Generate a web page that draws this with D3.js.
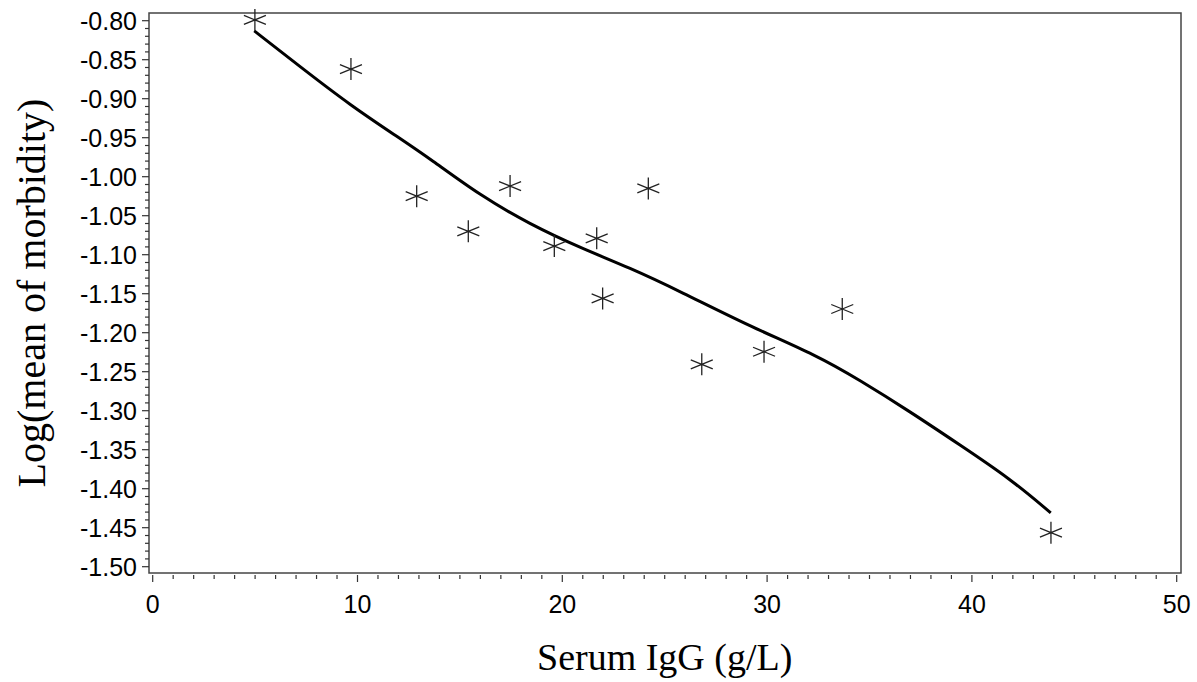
<!DOCTYPE html>
<html>
<head>
<meta charset="utf-8">
<script src="https://cdn.jsdelivr.net/npm/d3@7"></script>
<style>
  body { margin: 0; background: #fff; }
  svg { display: block; }
</style>
</head>
<body>
<div id="chart"></div>
<script>
// observed points: serum IgG (g/L) vs log(mean of morbidity)
const igg = [4.99, 9.68, 12.89, 15.41, 17.45, 19.61, 21.68, 21.97, 24.2, 26.81, 29.85, 33.67, 43.86];
const logMorb = [-0.799, -0.862, -1.025, -1.07, -1.012, -1.089, -1.079, -1.156, -1.015, -1.2405, -1.2244, -1.1696, -1.4564];

// fitted curve
const fitX = [4.96, 7.2, 9.63, 12.08, 13.54, 15.98, 18.42, 20.86, 23.31, 25.75, 29.16, 32.42, 34.53, 36.97, 39.42, 41.86, 43.85];
const fitY = [-0.813, -0.859, -0.908, -0.951, -0.977, -1.024, -1.061, -1.091, -1.117, -1.147, -1.192, -1.229, -1.261, -1.301, -1.344, -1.387, -1.431];

const xTicks = [0, 10, 20, 30, 40, 50];
const yTicks = [-0.80, -0.85, -0.90, -0.95, -1.00, -1.05, -1.10, -1.15, -1.20, -1.25, -1.30, -1.35, -1.40, -1.45, -1.50];

const width = 1197, height = 682;

const svg = d3.select("#chart").append("svg")
    .attr("width", width)
    .attr("height", height);

const x = d3.scaleLinear().domain([0, 50]).range([152.7, 1176.7]);
const y = d3.scaleLinear().domain([-1.50, -0.80]).range([566.7, 20.7]);

// plot frame
const fx0 = 149, fx1 = 1181, fy0 = 13, fy1 = 573;
svg.append("rect")
    .attr("x", fx0).attr("y", fy0)
    .attr("width", fx1 - fx0).attr("height", fy1 - fy0)
    .attr("fill", "none")
    .attr("stroke", "#444")
    .attr("stroke-width", 1.5);

const tickColor = "#333";

// y ticks (major + minor every 0.01)
const yMinor = d3.range(-150, -79).map(d => d / 100);
svg.append("g").selectAll("line")
    .data(yMinor)
    .enter().append("line")
    .attr("x1", d => (Math.round(d * 100) % 5 === 0) ? fx0 - 7 : fx0 - 4)
    .attr("x2", fx0)
    .attr("y1", d => y(d)).attr("y2", d => y(d))
    .attr("stroke", tickColor)
    .attr("stroke-width", 1.2);

svg.append("g").selectAll("text")
    .data(yTicks)
    .enter().append("text")
    .attr("x", 137)
    .attr("y", d => y(d))
    .attr("dy", "0.36em")
    .attr("text-anchor", "end")
    .attr("font-family", "Arial, 'Liberation Sans', sans-serif")
    .attr("font-size", 25)
    .attr("fill", "#000")
    .text(d => d.toFixed(2));

// x ticks (major + minor every 1)
const xMinor = d3.range(0, 51);
const xt = fy1 + 2;
svg.append("g").selectAll("line")
    .data(xMinor)
    .enter().append("line")
    .attr("x1", d => x(d)).attr("x2", d => x(d))
    .attr("y1", xt)
    .attr("y2", d => d % 10 === 0 ? xt + 7 : xt + 4)
    .attr("stroke", tickColor)
    .attr("stroke-width", 1.2);

svg.append("g").selectAll("text")
    .data(xTicks)
    .enter().append("text")
    .attr("x", d => x(d))
    .attr("y", 613)
    .attr("text-anchor", "middle")
    .attr("font-family", "Arial, 'Liberation Sans', sans-serif")
    .attr("font-size", 25)
    .attr("fill", "#000")
    .text(d => d);

// axis titles
svg.append("text")
    .attr("x", (x(0) + x(50)) / 2)
    .attr("y", 670)
    .attr("text-anchor", "middle")
    .attr("font-family", "'Times New Roman', 'Liberation Serif', serif")
    .attr("font-size", 38)
    .attr("fill", "#000")
    .text("Serum IgG (g/L)");

svg.append("text")
    .attr("transform", `translate(45,${(fy0 + fy1) / 2}) rotate(-90)`)
    .attr("text-anchor", "middle")
    .attr("font-family", "'Times New Roman', 'Liberation Serif', serif")
    .attr("font-size", 40)
    .attr("fill", "#000")
    .text("Log(mean of morbidity)");

// fitted curve
const fit = fitX.map((d, i) => [d, fitY[i]]);
svg.append("path")
    .datum(fit)
    .attr("fill", "none")
    .attr("stroke", "#000")
    .attr("stroke-width", 3)
    .attr("stroke-linejoin", "round")
    .attr("d", d3.line().x(d => x(d[0])).y(d => y(d[1])).curve(d3.curveBasis));

// star markers
const pts = igg.map((d, i) => [d, logMorb[i]]);
const starPath = "M0,-11L0,11M-11,-4.5L11,4.5M-11,4.5L11,-4.5";
svg.append("g").selectAll("path")
    .data(pts)
    .enter().append("path")
    .attr("transform", d => `translate(${x(d[0])},${y(d[1])})`)
    .attr("d", starPath)
    .attr("fill", "none")
    .attr("stroke", "#222")
    .attr("stroke-width", 1.3);
</script>
</body>
</html>
